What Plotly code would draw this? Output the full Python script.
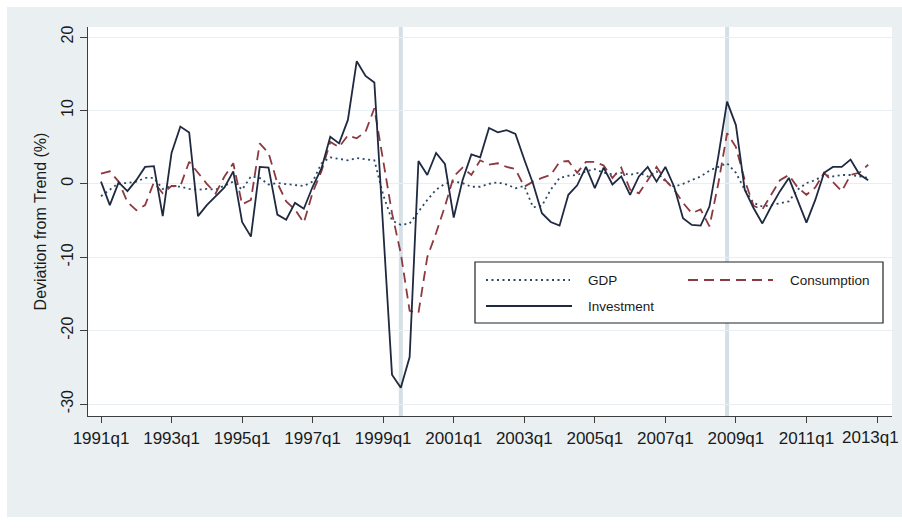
import plotly.graph_objects as go

# Quarterly sample 1991q1 - 2012q4
years = list(range(1991, 2013))
quarters = [1, 2, 3, 4]

# Cyclical components (% deviation from trend), four quarters per year
gdp = [
    -1.7, -0.8, 0.1, 0.1,     # 1991
    0.3, 0.8, 0.8, -0.7,      # 1992
    -0.3, -0.4, -0.7, -0.8,   # 1993
    -0.7, -0.8, -0.2, 0.3,    # 1994
    -0.8, 1.0, 0.8, -0.1,     # 1995
    0.1, 0.0, -0.1, -0.3,     # 1996
    0.3, 2.8, 3.6, 3.4,       # 1997
    3.2, 3.5, 3.3, 3.2,       # 1998
    -1.5, -5.0, -5.6, -5.4,   # 1999
    -3.8, -2.2, -0.8, 0.0,    # 2000
    0.3, 0.1, -0.4, -0.4,     # 2001
    0.0, 0.2, -0.1, -0.6,     # 2002
    -0.3, -3.2, -3.0, -0.8,   # 2003
    0.8, 1.1, 1.2, 1.7,       # 2004
    2.0, 1.5, 1.3, 1.5,       # 2005
    1.2, 1.5, 1.0, 1.7,       # 2006
    0.3, -0.4, 0.0, 0.5,      # 2007
    1.0, 1.8, 2.3, 2.8,       # 2008
    1.5, -0.8, -2.6, -3.1,    # 2009
    -2.9, -2.6, -2.4, -0.8,   # 2010
    0.1, 0.5, 1.2, 1.0,       # 2011
    1.2, 1.2, 1.0, 0.8,       # 2012
]

consumption = [
    1.4, 1.7, 0.3, -2.5,      # 1991
    -3.6, -2.9, 0.2, -1.3,    # 1992
    -0.3, -0.3, 3.0, 1.5,     # 1993
    0.0, -1.3, 1.0, 2.8,      # 1994
    -2.8, -2.2, 5.5, 4.2,     # 1995
    0.1, -2.4, -3.5, -5.3,    # 1996
    -1.2, 1.7, 5.7, 5.0,      # 1997
    6.6, 6.2, 7.1, 10.3,      # 1998
    3.0, -4.0, -9.5, -17.3,   # 1999
    -17.6, -10.0, -6.7, -3.1, # 2000
    1.0, 2.2, 1.2, 3.2,       # 2001
    2.6, 2.8, 2.3, 2.0,       # 2002
    -0.4, 0.3, 0.8, 1.2,      # 2003
    3.0, 3.1, 1.5, 3.0,       # 2004
    3.0, 2.5, 0.8, 2.2,       # 2005
    -0.8, -1.3, 0.5, 2.3,     # 2006
    0.5, -0.8, -2.6, -4.0,    # 2007
    -3.5, -5.8, 0.0, 6.9,     # 2008
    5.0, 0.5, -3.0, -3.5,     # 2009
    -1.5, 0.5, 1.2, -0.5,     # 2010
    -1.5, -0.5, 1.5, 0.2,     # 2011
    -1.0, 1.2, 1.5, 2.6,      # 2012
]

investment = [
    0.3, -2.9, 0.2, -1.0,     # 1991
    0.5, 2.3, 2.4, -4.4,      # 1992
    4.2, 7.8, 7.0, -4.4,      # 1993
    -2.9, -1.7, -0.5, 1.7,    # 1994
    -5.2, -7.2, 2.3, 2.2,     # 1995
    -4.2, -4.9, -2.6, -3.4,   # 1996
    -0.4, 2.1, 6.4, 5.5,      # 1997
    8.7, 16.7, 14.7, 13.8,    # 1998
    -6.0, -26.0, -27.8, -23.6,  # 1999
    3.1, 1.2, 4.2, 2.7,       # 2000
    -4.6, 0.5, 4.0, 3.6,      # 2001
    7.6, 7.0, 7.3, 6.8,       # 2002
    3.3, 0.0, -4.0, -5.2,     # 2003
    -5.7, -1.5, -0.2, 2.3,    # 2004
    -0.6, 2.2, -0.1, 1.0,     # 2005
    -1.5, 1.0, 2.3, 0.3,      # 2006
    2.3, -0.4, -4.7, -5.6,    # 2007
    -5.7, -3.1, 3.7, 11.2,    # 2008
    8.0, -0.8, -3.3, -5.4,    # 2009
    -3.1, -1.0, 0.8, -2.2,    # 2010
    -5.3, -2.2, 1.5, 2.3,     # 2011
    2.3, 3.3, 1.3, 0.5,       # 2012
]

# Crisis quarters marked with vertical bands
crisis_quarters = [(1999, 3), (2008, 4)]

x_tick_years = list(range(1991, 2014, 2))
x_tick_labels = [f"{y}q1" for y in x_tick_years]
y_ticks = [-30, -20, -10, 0, 10, 20]

series_names = ["GDP", "Consumption", "Investment"]


def qnum(year, q):
    return year + (q - 1) / 4.0


x = [qnum(y, q) for y in years for q in quarters]

# ---- layout geometry (pixels) ----
W, H = 902, 531
PL, PR, PT, PB = 88, 892, 27, 416  # plot area edges


def px(v):
    return (v - PL) / (PR - PL)


def py(v):
    return (PB - v) / (PB - PT)


NAVY = "#2A4868"
MAROON = "#8C3A40"
DARK = "#1F2940"
BG = "#EAF0F2"
AXIS = "#3d3d3d"
TEXT = "#1a1a1a"
FONT = "Liberation Sans, Arial, sans-serif"
TICK_SIZE = 17

styles = {
    "GDP": dict(color=NAVY, width=1.8, dash="2px,3.5px"),
    "Consumption": dict(color=MAROON, width=1.8, dash="10px,6px"),
    "Investment": dict(color=DARK, width=1.8, dash="solid"),
}
values = {"GDP": gdp, "Consumption": consumption, "Investment": investment}

fig = go.Figure()
for name in series_names:
    fig.add_trace(go.Scatter(
        x=x, y=values[name], mode="lines", name=name,
        line=styles[name], showlegend=False,
    ))

shapes = [
    # graph region background
    dict(type="rect", xref="paper", yref="paper", layer="below",
         x0=px(7), x1=px(W + 5), y0=py(517), y1=py(7),
         fillcolor=BG, line=dict(width=0)),
    # plot region
    dict(type="rect", xref="paper", yref="paper", layer="below",
         x0=0, x1=1, y0=0, y1=1, fillcolor="white", line=dict(width=0)),
]
for (yr, q) in crisis_quarters:
    xv = qnum(yr, q)
    shapes.append(dict(type="line", xref="x", yref="paper", layer="below",
                       x0=xv, x1=xv, y0=0, y1=1,
                       line=dict(color="#D5E0E6", width=4)))

# legend box
shapes.append(dict(type="rect", xref="paper", yref="paper", layer="above",
                   x0=px(475), x1=px(883), y0=py(323), y1=py(262),
                   fillcolor="white", line=dict(color="#222222", width=1.2)))

legend_rows = [
    ("GDP", 486, 570, 586, 280),
    ("Consumption", 688, 773, 788, 280),
    ("Investment", 486, 572, 586, 306),
]
annotations = []
for name, sx0, sx1, tx, ry in legend_rows:
    st = styles[name]
    shapes.append(dict(type="line", xref="paper", yref="paper", layer="above",
                       x0=px(sx0), x1=px(sx1), y0=py(ry), y1=py(ry),
                       line=dict(color=st["color"], width=st["width"], dash=st["dash"])))
    annotations.append(dict(xref="paper", yref="paper", x=px(tx), y=py(ry),
                            text=name, showarrow=False, xanchor="left", yanchor="middle",
                            font=dict(family=FONT, size=13.5, color=TEXT)))

# the last tick label sits at the right edge; anchor it inside the canvas
shown_labels = x_tick_labels[:-1] + [""]
annotations.append(dict(xref="paper", yref="paper", x=px(W - 1), y=py(438),
                        text=x_tick_labels[-1], showarrow=False,
                        xanchor="right", yanchor="middle",
                        font=dict(family=FONT, size=TICK_SIZE, color=TEXT)))

fig.update_layout(
    width=W, height=H,
    margin=dict(l=PL, r=W - PR, t=PT, b=H - PB, autoexpand=False),
    paper_bgcolor="white",
    plot_bgcolor="rgba(0,0,0,0)",
    shapes=shapes,
    annotations=annotations,
    showlegend=False,
    font=dict(family=FONT, color=TEXT),
    xaxis=dict(
        range=[qnum(1991, 1) - 13 / 35.27, qnum(2013, 1) + 15 / 35.27],
        tickmode="array", tickvals=x_tick_years, ticktext=shown_labels,
        showgrid=False, zeroline=False,
        showline=True, linecolor=AXIS, linewidth=1.3,
        ticks="outside", ticklen=6, tickcolor=AXIS, tickwidth=1.3,
        tickfont=dict(size=TICK_SIZE, family=FONT, color=TEXT),
        automargin=False,
    ),
    yaxis=dict(
        range=[-30 - 12 / 7.34, 20 + 10 / 7.34],
        tickmode="array", tickvals=y_ticks, ticktext=[str(v) for v in y_ticks],
        tickangle=-90,
        showgrid=True, gridcolor="#E8EEF1", gridwidth=1.2, zeroline=False,
        showline=True, linecolor=AXIS, linewidth=1.3,
        ticks="outside", ticklen=7, tickcolor=AXIS, tickwidth=1.3,
        tickfont=dict(size=16, family=FONT, color=TEXT),
        title=dict(text="Deviation from Trend (%)", standoff=8,
                   font=dict(size=16, family=FONT, color=TEXT)),
        automargin=False,
    ),
)

fig.write_html("out.html")
